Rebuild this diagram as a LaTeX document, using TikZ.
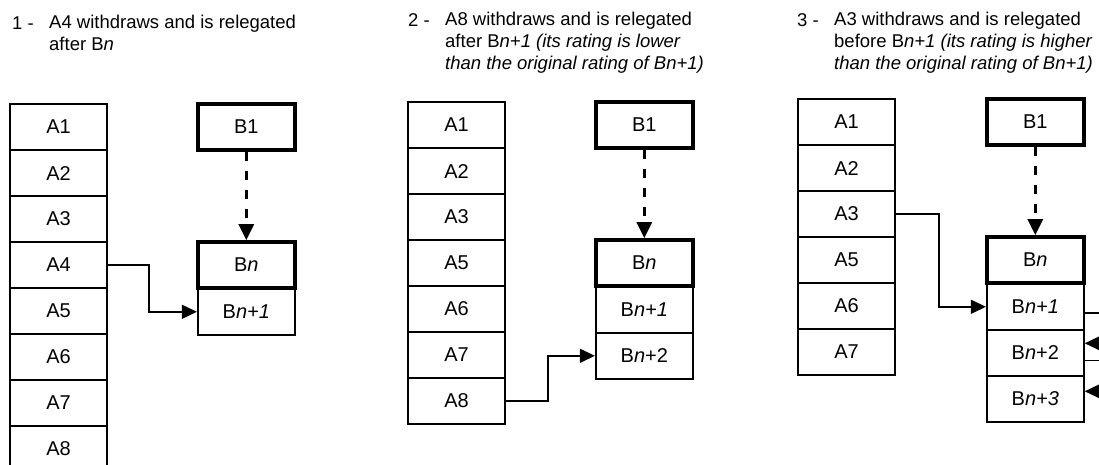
\documentclass[tikz,border=0pt]{standalone}
\usepackage{fontspec}
\setmainfont{Liberation Sans}
\usetikzlibrary{arrows.meta,matrix,positioning}
\tikzset{
          column/.style={
            matrix of nodes,
            row sep=-1.8pt,
            inner sep=0pt,
            nodes={rectangle,draw=black,line width=1.8pt,minimum width=97pt,
                   minimum height=46pt,inner sep=0pt,
                   font=\fontsize{20}{24}\selectfont}
          },
          cell/.style={rectangle,draw=black,line width=1.8pt,minimum width=97pt,
                   minimum height=46pt,inner sep=0pt,
                   font=\fontsize{20}{24}\selectfont},
          head/.style={line width=3.6pt},
          title/.style={font=\fontsize{18.5}{22}\selectfont,align=left,inner sep=0pt},
          link/.style={line width=1.4pt,-{Triangle[length=15pt,width=14pt]}},
          dashlink/.style={line width=2.8pt,dash pattern=on 9pt off 10pt,
                   -{Triangle[length=16pt,width=15pt]}}
        }
\newcommand\StepTitle[4]{%
          \node[title,anchor=base west] (#1num) at #2 {#3 -};
          \node[title,anchor=north west] (#1)
          at ([xshift=37pt,yshift=15.4pt]#1num.base west) {#4};
        }

\begin{document}
\begin{tikzpicture}[x=1pt,y=-1pt]
            \useasboundingbox (0,0) rectangle (1099,465);

            % case 1
            \StepTitle{t1}{(12,30)}{1}{A4 withdraws and is relegated\\after B\textit{n}}
            \matrix[column,anchor=north west] (colA1) at (9,103)
              {A1\\A2\\A3\\A4\\A5\\A6\\A7\\A8\\};
            \node[cell,head,right=88pt of colA1-1-1] (B1a) {B1};
            \matrix[column,below=88pt of B1a] (colB1)
              {|[head]| B\textit{n}\\ B\textit{n+1}\\};
            \draw[dashlink] (B1a) -- (colB1-1-1);
            \draw[link] (colA1-4-1.east) -- ++(41,0) |- (colB1-2-1.west);

            % case 2
            \StepTitle{t2}{(408,27)}{2}{A8 withdraws and is relegated\\after
              B\textit{n+1 (its rating is lower}\\\textit{than the original rating of Bn+1)}}
            \matrix[column,anchor=north west] (colA2) at (407,101)
              {A1\\A2\\A3\\A5\\A6\\A7\\A8\\};
            \node[cell,head,right=88pt of colA2-1-1] (B1b) {B1};
            \matrix[column,below=88pt of B1b] (colB2)
              {|[head]| B\textit{n}\\ B\textit{n+1}\\ B\textit{n}+2\\};
            \draw[dashlink] (B1b) -- (colB2-1-1);
            \draw[link] (colA2-7-1.east) -- ++(42,0) |- (colB2-3-1.west);

            % case 3
            \StepTitle{t3}{(797,27)}{3}{A3 withdraws and is relegated\\before
              B\textit{n+1 (its rating is higher}\\\textit{than the original rating of Bn+1)}}
            \matrix[column,anchor=north west] (colA3) at (797,98)
              {A1\\A2\\A3\\A5\\A6\\A7\\};
            \node[cell,head,right=89pt of colA3-1-1] (B1c) {B1};
            \matrix[column,below=88pt of B1c] (colB3)
              {|[head]| B\textit{n}\\ B\textit{n+1}\\ B\textit{n}+2\\ B\textit{n+3}\\};
            \draw[dashlink] (B1c) -- (colB3-1-1);
            \draw[link] (colA3-3-1.east) -- ++(43,0) |- (colB3-2-1.west);
            \draw[link] ([yshift=-6pt]colB3-2-1.east) -- ++(30,0)
              |- ([yshift=9.5pt]colB3-3-1.east);
            \draw[link] ([yshift=-7.5pt]colB3-3-1.east) -- ++(30,0)
              |- ([yshift=7.5pt]colB3-4-1.east);
          \end{tikzpicture}
\end{document}
